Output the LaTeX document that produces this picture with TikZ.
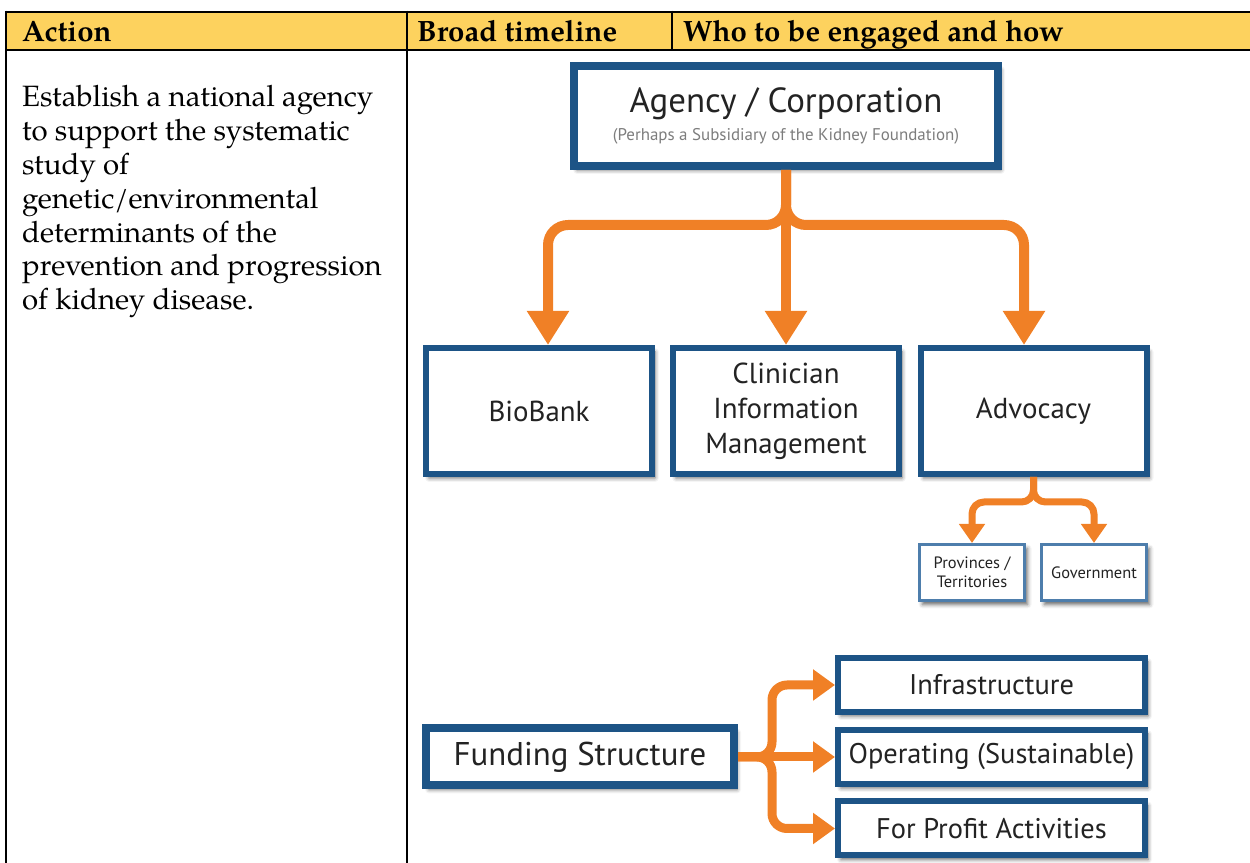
\documentclass[tikz,border=0pt]{standalone}
\usepackage{fontspec}
\setmainfont{TeX Gyre Pagella}
\newfontfamily\diagfont{PT Sans}
\usepackage{tikz}
\usetikzlibrary{arrows.meta,shadows.blur}

\definecolor{headfill}{RGB}{253,210,94}
\definecolor{boxblue}{RGB}{29,84,134}
\definecolor{thinblue}{RGB}{78,126,172}
\definecolor{feedorange}{RGB}{240,128,38}
\definecolor{labelgray}{RGB}{35,35,35}
\definecolor{notegray}{RGB}{125,125,125}

\begin{document}
\begin{tikzpicture}[>=latex,line join=bevel,
  rule/.style={line width=2.5bp,black},
  headtext/.style={anchor=base west,inner sep=0pt,font=\bfseries\fontsize{29.5}{32}\selectfont},
  bigbox/.style={draw=boxblue,line width=8bp,line join=miter,fill=white,inner sep=0pt,align=center,
    text=labelgray,font=\diagfont\fontsize{35}{38}\selectfont,
    blur shadow={shadow xshift=3bp,shadow yshift=-4bp,shadow blur radius=4bp,shadow opacity=60}},
  midbox/.style={bigbox,line width=6bp,minimum width=226bp,minimum height=126bp,
    font=\diagfont\fontsize{29}{35}\selectfont},
  smallbox/.style={bigbox,draw=thinblue,line width=3bp,minimum width=105bp,minimum height=56bp,
    font=\diagfont\fontsize{16.5}{19}\selectfont},
  sidebox/.style={bigbox,line width=6bp,minimum width=307bp,minimum height=54bp,
    font=\diagfont\fontsize{28.5}{30}\selectfont},
  feed/.style={draw=feedorange,line width=10bp,rounded corners=20bp,-{Triangle[width=40bp,length=34bp]}},
  subfeed/.style={draw=feedorange,line width=7bp,rounded corners=12bp,-{Triangle[width=25bp,length=19bp]}},
  fundfeed/.style={draw=feedorange,line width=9bp,rounded corners=15bp,-{Triangle[width=30bp,length=22bp]}},
]
\useasboundingbox (0bp,0bp) rectangle (1250bp,863bp);
%%
% Table frame
\fill[headfill] (6bp,813bp) rectangle (1250bp,851bp);
\draw[rule] (6bp,851bp) -- (1250bp,851bp);
\draw[rule] (6bp,813bp) -- (1250bp,813bp);
\draw[rule] (6bp,852.25bp) -- (6bp,0bp);
\draw[rule] (407bp,852.25bp) -- (407bp,0bp);
\draw[rule] (672bp,852.25bp) -- (672bp,813bp);
% Header cells
\node[headtext] (action) at (22bp,821bp) {Action};
\node[headtext] (timeline) at (417bp,821bp) {Broad timeline};
\node[headtext] (engaged) at (683bp,821bp) {Who to be engaged and how};
% Action text
\node[anchor=north west,align=left,inner sep=0pt,font=\fontsize{29.5}{34}\selectfont] (task) at (22bp,778bp)
  {Establish a national agency\\to support the systematic\\study of\\genetic/environmental\\determinants of the\\prevention and progression\\of kidney disease.};
%%
  % Node: agency
\begin{scope}
  \node[bigbox,minimum width=424bp,minimum height=100bp] (agency) at (786bp,747bp)
    {Agency / Corporation\\[-9bp]{\fontsize{17}{19}\selectfont\color{notegray}(Perhaps a Subsidiary of the Kidney Foundation)}};
\end{scope}
  % Node: biobank
\begin{scope}
  \node[midbox] (biobank) at (539bp,452bp) {BioBank};
\end{scope}
  % Node: clinician
\begin{scope}
  \node[midbox] (clinician) at (786bp,452bp) {Clinician\\Information\\Management};
\end{scope}
  % Node: advocacy
\begin{scope}
  \node[midbox] (advocacy) at (1033.5bp,452bp) {Advocacy};
\end{scope}
  % Node: provinces
\begin{scope}
  \node[smallbox] (provinces) at (972bp,290.5bp) {Provinces /\\Territories};
\end{scope}
  % Node: government
\begin{scope}
  \node[smallbox] (government) at (1094bp,290.5bp) {Government};
\end{scope}
  % Node: funding
\begin{scope}
  \node[bigbox,minimum width=308bp,minimum height=57bp,font=\diagfont\fontsize{33}{36}\selectfont] (funding) at (580bp,106bp) {Funding Structure};
\end{scope}
  % Node: infra
\begin{scope}
  \node[sidebox] (infra) at (991.5bp,178bp) {Infrastructure};
\end{scope}
  % Node: operating
\begin{scope}
  \node[sidebox] (operating) at (991.5bp,106bp) {Operating (Sustainable)};
\end{scope}
  % Node: profit
\begin{scope}
  \node[sidebox] (profit) at (991.5bp,34.5bp) {For Profit Activities};
\end{scope}
%%
  % Edge: agency -> biobank
  \draw[feed] (agency.south) |- (548bp,638bp) -- ([xshift=9bp]biobank.north);
  % Edge: agency -> clinician
  \draw[feed] (agency.south) -- (clinician.north);
  % Edge: agency -> advocacy
  \draw[feed] (agency.south) |- (1024bp,638bp) -- ([xshift=-9.5bp]advocacy.north);
  % Edge: advocacy -> provinces
  \draw[subfeed] (advocacy.south) |- (972bp,361bp) -- (provinces.north);
  % Edge: advocacy -> government
  \draw[subfeed] (advocacy.south) |- (1094bp,361bp) -- (government.north);
  % Edge: funding -> infra
  \draw[fundfeed] (funding.east) -- (772bp,106bp) |- (infra.west);
  % Edge: funding -> operating
  \draw[fundfeed] (funding.east) -- (operating.west);
  % Edge: funding -> profit
  \draw[fundfeed] (funding.east) -- (772bp,106bp) |- (profit.west);
%
\end{tikzpicture}
\end{document}
